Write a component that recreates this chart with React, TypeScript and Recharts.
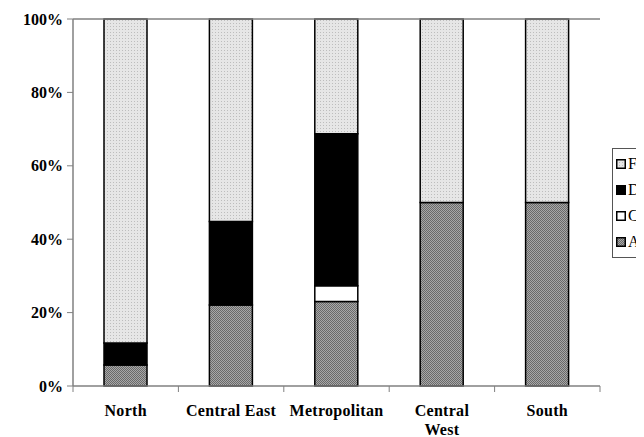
import React from 'react';
import { BarChart, Bar, XAxis, YAxis, ReferenceLine } from 'recharts';

const categories = ['North', 'Central East', 'Metropolitan', 'Central\nWest', 'South'];
const seriesA = [5.7, 22.1, 23.0, 50, 50];
const seriesC = [0, 0, 4.3, 0, 0];
const seriesD = [6.0, 22.7, 41.4, 0, 0];
const seriesF = [88.3, 55.2, 31.3, 50, 50];
const yTicks = [0, 20, 40, 60, 80, 100];

const data = categories.map((name, i) => ({
  name,
  A: seriesA[i],
  C: seriesC[i],
  D: seriesD[i],
  F: seriesF[i],
}));

const FONT = '"Liberation Serif", "Times New Roman", serif';
const AXIS = '#808080';

const legendItems = [
  { key: 'F', fill: 'url(#patF)' },
  { key: 'D', fill: '#000' },
  { key: 'C', fill: '#fff' },
  { key: 'A', fill: 'url(#patA)' },
];

const XTick = (props: any) => {
  const { x, y, payload, index } = props;
  const half = payload && payload.offset ? payload.offset : 52.7;
  const lines = String(payload.value).split('\n');
  return (
    <g>
      <line x1={x - half} y1={y - 8} x2={x - half} y2={y - 2} stroke={AXIS} />
      {index === categories.length - 1 && (
        <line x1={x + half} y1={y - 8} x2={x + half} y2={y - 2} stroke={AXIS} />
      )}
      <text x={x} y={y + 22} textAnchor="middle" fontFamily={FONT} fontWeight="bold" fontSize={16} letterSpacing={0.3} fill="#000">
        {lines.map((l, i) => (
          <tspan key={i} x={x} dy={i === 0 ? 0 : 19}>{l}</tspan>
        ))}
      </text>
    </g>
  );
};

const LegendBox = () => (
  <div style={{ position: 'absolute', left: 604, top: 140, border: '1px solid #555', background: '#fff', width: 60, height: 108 }}>
    {legendItems.map((it, i) => (
      <div key={it.key} style={{ position: 'absolute', left: 3, top: 9 + i * 26, display: 'flex', alignItems: 'center' }}>
        <svg width={10} height={10} style={{ display: 'block' }}>
          <rect x={0.75} y={0.75} width={8.5} height={8.5} fill={it.fill} stroke="#000" strokeWidth={1.5} />
        </svg>
        <span style={{ fontFamily: FONT, fontSize: 16, marginLeft: 2, lineHeight: '12px' }}>{it.key}</span>
      </div>
    ))}
  </div>
);

export default function App() {
  return (
    <div style={{ width: 636, height: 429, overflow: 'hidden', background: '#fff', position: 'relative' }}>
      <BarChart
        width={690}
        height={429}
        data={data}
        margin={{ top: 11, right: 98, left: 0, bottom: 0 }}
        barSize={43}
      >
        <defs>
          <pattern id="patF" width="3" height="3" patternUnits="userSpaceOnUse">
            <rect width="3" height="3" fill="#e6e6e6" />
            <rect width="1" height="1" fill="#bdbdbd" />
          </pattern>
          <pattern id="patA" width="2" height="2" patternUnits="userSpaceOnUse">
            <rect width="2" height="2" fill="#a8a8a8" />
            <rect width="1" height="1" fill="#6a6a6a" />
            <rect x="1" y="1" width="1" height="1" fill="#6a6a6a" />
          </pattern>
        </defs>
        <XAxis
          dataKey="name"
          height={51}
          interval={0}
          axisLine={{ stroke: AXIS, strokeWidth: 1.5 }}
          tickLine={false}
          tick={<XTick />}
        />
        <YAxis
          width={65}
          domain={[0, 100]}
          ticks={yTicks}
          tickFormatter={(v: number) => `${v}%`}
          axisLine={{ stroke: AXIS, strokeWidth: 1.5 }}
          tickLine={{ stroke: AXIS }}
          tickSize={6}
          tickMargin={4}
          tick={{ fontFamily: FONT, fontWeight: 'bold', fontSize: 16, fill: '#000' }}
        />
        <YAxis
          yAxisId="right"
          orientation="right"
          width={0}
          domain={[0, 100]}
          tick={false}
          tickLine={false}
          axisLine={{ stroke: AXIS }}
        />
        <ReferenceLine y={100} stroke={AXIS} strokeWidth={1.5} />
        <Bar dataKey="A" stackId="s" fill="url(#patA)" stroke="#000" strokeWidth={1.5} isAnimationActive={false} />
        <Bar dataKey="C" stackId="s" fill="#fff" stroke="#000" strokeWidth={1.5} isAnimationActive={false} />
        <Bar dataKey="D" stackId="s" fill="#000" stroke="#000" strokeWidth={1.5} isAnimationActive={false} />
        <Bar dataKey="F" stackId="s" fill="url(#patF)" stroke="#000" strokeWidth={1.5} isAnimationActive={false} />
      </BarChart>
      <LegendBox />
    </div>
  );
}
